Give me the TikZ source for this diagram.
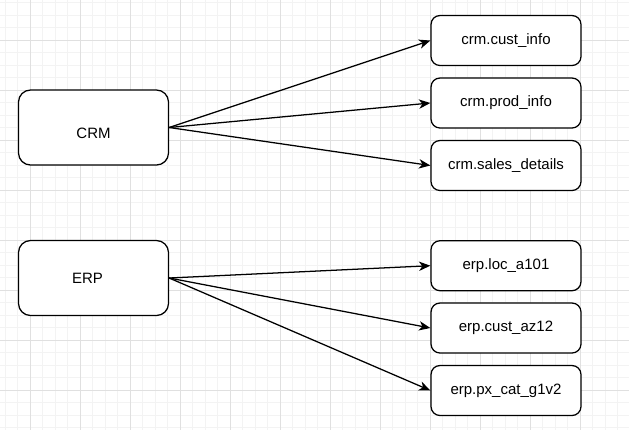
\documentclass[tikz,border=0pt]{standalone}
\usepackage{fontspec}
\setmainfont{Liberation Sans}
\usetikzlibrary{arrows.meta}

\definecolor{gridcolor0001}{RGB}{243,243,243}
\definecolor{gridcolor0002}{RGB}{224,224,224}

\begin{document}
\begin{tikzpicture}[yscale=-1,x=0.75pt,y=0.75pt
,pstyle0/.style={color=gridcolor0001,line width=0.75pt}
,pstyle1/.style={color=gridcolor0002,line width=0.75pt}
,pstyle2/.style={draw=black,fill=white,line width=0.95pt,rounded corners=9pt,minimum width=112.5pt,minimum height=56.25pt,inner sep=0pt,font=\fontsize{11.25pt}{13.5pt}\selectfont}
,pstyle3/.style={pstyle2,rounded corners=6.75pt,minimum height=37.5pt}
,pstyle4/.style={color=black,line width=0.95pt,-{Stealth[length=8.5pt,width=7pt,inset=2.5pt]}}
]
\useasboundingbox (0,0) rectangle (629,430);
\fill[white] (0,0) rectangle (629,430);
% grid
\foreach \k in {0,...,49} {
  \pgfmathsetmacro{\gx}{5+12.5*\k}
  \draw[pstyle0] (\gx,0) -- (\gx,430);
}
\foreach \k in {0,...,34} {
  \pgfmathsetmacro{\gy}{2.5+12.5*\k}
  \draw[pstyle0] (0,\gy) -- (629,\gy);
}
\foreach \gx in {30,80,...,630} \draw[pstyle1] (\gx,0) -- (\gx,430);
\foreach \gy in {40,90,...,430} \draw[pstyle1] (0,\gy) -- (629,\gy);
% sources
\node[pstyle2,text height=17pt,text depth=0pt] (crm) at (93.5,127.5) {CRM};
\node[pstyle2] (erp) at (93.5,278) {ERP\hspace*{9pt}};
% tables
\node[pstyle3] (custinfo) at (506,40.5) {crm.cust\_info};
\node[pstyle3] (prodinfo) at (506,103) {crm.prod\_info};
\node[pstyle3] (salesdetails) at (506,165.5) {crm.sales\_details};
\node[pstyle3] (loca101) at (506,265.7) {erp.loc\_a101};
\node[pstyle3] (custaz12) at (506,328) {erp.cust\_az12};
\node[pstyle3] (pxcatg1v2) at (506,390.5) {erp.px\_cat\_g1v2};
% links
\draw[pstyle4] (crm.east) -- (custinfo.west);
\draw[pstyle4] (crm.east) -- (prodinfo.west);
\draw[pstyle4] (crm.east) -- (salesdetails.west);
\draw[pstyle4] (erp.east) -- (loca101.west);
\draw[pstyle4] (erp.east) -- (custaz12.west);
\draw[pstyle4] (erp.east) -- (pxcatg1v2.west);
\end{tikzpicture}
\end{document}
